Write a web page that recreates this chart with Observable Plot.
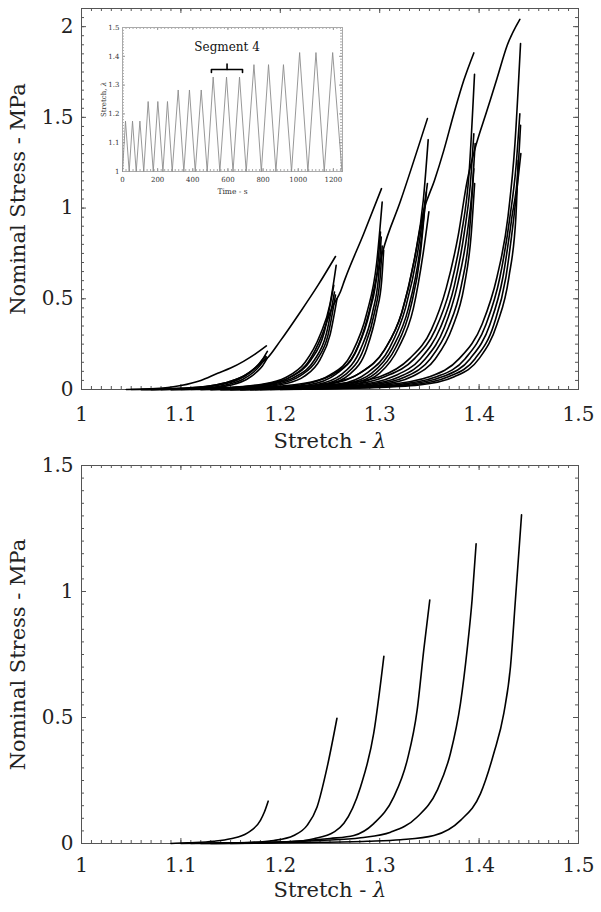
<!DOCTYPE html>
<html>
<head>
<meta charset="utf-8">
<script src="https://cdn.jsdelivr.net/npm/d3@7"></script>
<script src="https://cdn.jsdelivr.net/npm/@observablehq/plot@0.6"></script>
<style>
  body { margin: 0; background: #fff; }
  #wrap { position: relative; width: 601px; height: 912px; overflow: hidden; background: #fff; }
  #inset { position: absolute; left: 92px; top: 20px; }
  svg { display: block; overflow: visible; }
</style>
</head>
<body>
<div id="wrap">
  <div id="top"></div>
  <div id="bottom"></div>
  <div id="inset"></div>
</div>
<script>
// ---------------- DATA ----------------
// Axis tick labels
const xMajor = [1, 1.1, 1.2, 1.3, 1.4, 1.5];
const yTicksTop = [0, 0.5, 1, 1.5, 2];
const yTicksBottom = [0, 0.5, 1, 1.5];
const xLabel = "Stretch - λ";
const yLabel = "Nominal Stress - MPa";

// Top chart: each segment = first loading (primary) curve + subsequent cycle curves. Points are [stretch, stress MPa]
const seg1 = [
  [[1.045,0],[1.07,0.004],[1.10,0.022],[1.12,0.05],[1.137,0.09],[1.15,0.118],[1.163,0.155],[1.175,0.196],[1.186,0.24]],
  [[1.06,0],[1.10,0.006],[1.13,0.02],[1.15,0.045],[1.165,0.08],[1.175,0.12],[1.182,0.165],[1.187,0.21]],
  [[1.07,0],[1.11,0.007],[1.14,0.026],[1.158,0.055],[1.17,0.095],[1.178,0.135],[1.185,0.185]],
  [[1.08,0],[1.12,0.007],[1.145,0.025],[1.162,0.055],[1.173,0.095],[1.18,0.135],[1.186,0.18]],
  [[1.09,0],[1.125,0.006],[1.15,0.024],[1.166,0.055],[1.176,0.095],[1.182,0.13],[1.187,0.175]]
];
const seg2 = [
  [[1.05,0],[1.10,0.006],[1.13,0.02],[1.15,0.045],[1.165,0.08],[1.177,0.13],[1.1868,0.172],[1.20,0.268],[1.22,0.426],[1.238,0.575],[1.2555,0.733]],
  [[1.09,0],[1.14,0.008],[1.18,0.028],[1.205,0.065],[1.225,0.15],[1.24,0.30],[1.25,0.47],[1.2562,0.684]],
  [[1.10,0],[1.15,0.01],[1.187,0.031],[1.21,0.068],[1.2304,0.16],[1.2438,0.307],[1.2538,0.574]],
  [[1.11,0],[1.16,0.01],[1.195,0.033],[1.215,0.07],[1.234,0.16],[1.246,0.30],[1.2545,0.537]],
  [[1.12,0],[1.165,0.01],[1.20,0.033],[1.22,0.075],[1.237,0.165],[1.248,0.30],[1.2555,0.52]],
  [[1.13,0],[1.17,0.009],[1.205,0.032],[1.224,0.072],[1.24,0.165],[1.25,0.30],[1.257,0.50]]
];
const seg3 = [
  [[1.06,0],[1.12,0.005],[1.16,0.012],[1.19,0.03],[1.21,0.068],[1.228,0.15],[1.242,0.30],[1.252,0.45],[1.2606,0.54],[1.2645,0.60],[1.284,0.86],[1.3018,1.107]],
  [[1.12,0],[1.18,0.008],[1.22,0.025],[1.25,0.08],[1.272,0.20],[1.287,0.42],[1.297,0.70],[1.3025,1.033]],
  [[1.13,0],[1.19,0.008],[1.228,0.025],[1.256,0.085],[1.277,0.22],[1.29,0.43],[1.2975,0.65],[1.3008,0.868]],
  [[1.14,0],[1.20,0.008],[1.235,0.025],[1.262,0.085],[1.281,0.225],[1.293,0.43],[1.299,0.63],[1.3015,0.84]],
  [[1.15,0],[1.205,0.008],[1.24,0.024],[1.266,0.085],[1.284,0.225],[1.295,0.43],[1.3005,0.62],[1.3025,0.79]],
  [[1.16,0],[1.21,0.008],[1.245,0.024],[1.27,0.085],[1.287,0.225],[1.297,0.43],[1.302,0.60],[1.304,0.767]]
];
const seg4 = [
  [[1.07,0],[1.13,0.005],[1.19,0.015],[1.23,0.04],[1.255,0.09],[1.275,0.20],[1.289,0.42],[1.298,0.65],[1.303,0.76],[1.321,1.04],[1.348,1.493]],
  [[1.13,0],[1.20,0.008],[1.25,0.03],[1.28,0.09],[1.305,0.22],[1.322,0.42],[1.335,0.72],[1.344,1.05],[1.3488,1.377]],
  [[1.14,0],[1.21,0.008],[1.26,0.03],[1.287,0.09],[1.31,0.23],[1.326,0.45],[1.338,0.75],[1.348,1.135]],
  [[1.15,0],[1.22,0.008],[1.265,0.03],[1.292,0.09],[1.313,0.23],[1.329,0.45],[1.340,0.75],[1.347,1.088]],
  [[1.16,0],[1.225,0.008],[1.27,0.03],[1.296,0.09],[1.316,0.23],[1.331,0.45],[1.341,0.75],[1.346,1.04]],
  [[1.17,0],[1.23,0.008],[1.275,0.03],[1.30,0.09],[1.319,0.23],[1.334,0.45],[1.344,0.76],[1.3495,0.98]]
];
const seg5 = [
  [[1.08,0],[1.15,0.005],[1.21,0.015],[1.255,0.04],[1.28,0.09],[1.305,0.22],[1.322,0.42],[1.335,0.72],[1.344,0.98],[1.355,1.15],[1.3645,1.318],[1.3746,1.52],[1.3846,1.704],[1.3947,1.855]],
  [[1.14,0],[1.21,0.008],[1.27,0.025],[1.305,0.07],[1.335,0.17],[1.356,0.33],[1.371,0.56],[1.382,0.85],[1.39,1.2],[1.3954,1.737]],
  [[1.15,0],[1.22,0.008],[1.278,0.025],[1.313,0.07],[1.341,0.17],[1.361,0.34],[1.375,0.57],[1.385,0.86],[1.391,1.12],[1.3947,1.41]],
  [[1.16,0],[1.23,0.008],[1.285,0.025],[1.32,0.07],[1.346,0.17],[1.365,0.34],[1.378,0.57],[1.388,0.86],[1.393,1.10],[1.396,1.355]],
  [[1.17,0],[1.24,0.008],[1.292,0.025],[1.326,0.07],[1.351,0.17],[1.369,0.34],[1.382,0.57],[1.39,0.85],[1.3947,1.217]],
  [[1.18,0],[1.25,0.008],[1.30,0.025],[1.332,0.07],[1.356,0.17],[1.373,0.34],[1.385,0.57],[1.392,0.85],[1.3955,1.135]]
];
const seg6 = [
  [[1.09,0],[1.16,0.005],[1.22,0.015],[1.265,0.035],[1.30,0.07],[1.33,0.17],[1.352,0.33],[1.367,0.56],[1.379,0.85],[1.388,1.15],[1.3955,1.32],[1.408,1.539],[1.418,1.714],[1.4283,1.897],[1.441,2.04]],
  [[1.16,0],[1.24,0.008],[1.305,0.025],[1.35,0.07],[1.38,0.17],[1.403,0.36],[1.418,0.62],[1.429,0.95],[1.436,1.35],[1.4417,1.907]],
  [[1.17,0],[1.25,0.008],[1.315,0.025],[1.357,0.07],[1.386,0.17],[1.407,0.36],[1.421,0.62],[1.431,0.95],[1.437,1.22],[1.441,1.52]],
  [[1.18,0],[1.26,0.008],[1.323,0.025],[1.363,0.07],[1.391,0.17],[1.411,0.36],[1.424,0.62],[1.433,0.95],[1.439,1.20],[1.4417,1.456]],
  [[1.19,0],[1.27,0.008],[1.332,0.025],[1.369,0.07],[1.396,0.17],[1.415,0.36],[1.427,0.62],[1.435,0.95],[1.442,1.30]],
  [[1.20,0],[1.28,0.008],[1.34,0.025],[1.375,0.07],[1.40,0.17],[1.418,0.36],[1.43,0.62],[1.437,0.95],[1.4393,1.263]]
];

// Bottom chart: one representative curve per segment
const bottomCurves = [
  [[1.09,0],[1.107,0.003],[1.133,0.009],[1.15,0.019],[1.1667,0.041],[1.18,0.092],[1.184,0.125],[1.1878,0.168]],
  [[1.10,0],[1.135,0.002],[1.167,0.004],[1.1935,0.012],[1.2136,0.032],[1.227,0.072],[1.237,0.145],[1.2472,0.304],[1.257,0.497]],
  [[1.11,0],[1.15,0.002],[1.18,0.004],[1.207,0.006],[1.2337,0.019],[1.2538,0.045],[1.264,0.08],[1.2807,0.2246],[1.294,0.4376],[1.3042,0.743]],
  [[1.12,0],[1.18,0.004],[1.22,0.01],[1.25,0.02],[1.274,0.032],[1.294,0.079],[1.3142,0.185],[1.3277,0.331],[1.3377,0.53],[1.3444,0.77],[1.3504,0.9665]],
  [[1.13,0],[1.19,0.004],[1.24,0.012],[1.281,0.023],[1.311,0.045],[1.3377,0.105],[1.3578,0.211],[1.3712,0.358],[1.3813,0.557],[1.388,0.77],[1.393,0.97],[1.397,1.189]],
  [[1.15,0],[1.22,0.004],[1.2874,0.009],[1.321,0.015],[1.3546,0.032],[1.3813,0.092],[1.4014,0.198],[1.4148,0.358],[1.4249,0.517],[1.4316,0.703],[1.4366,0.97],[1.4427,1.304]]
];

// Inset: stretch history (time s, stretch)
const insetTime    = [0, 17, 38, 57, 78, 99, 121, 146, 175, 201, 230, 256, 283, 317, 349, 381, 414, 448, 482, 516, 554, 592, 629, 666, 704, 748, 790, 831, 873, 916, 962, 1008, 1055, 1101, 1148, 1196, 1249];
const insetStretch = [1, 1.175, 1, 1.175, 1, 1.175, 1, 1.243, 1, 1.243, 1, 1.243, 1, 1.283, 1, 1.283, 1, 1.283, 1, 1.328, 1, 1.328, 1, 1.328, 1, 1.371, 1, 1.371, 1, 1.371, 1, 1.413, 1, 1.413, 1, 1.413, 1];
const insetXTicks = [0, 200, 400, 600, 800, 1000, 1200];
const insetYTicks = [1, 1.1, 1.2, 1.3, 1.4, 1.5];
const insetXLabel = "Time - s";
const insetYLabel = "Stretch, λ";
const segmentLabel = "Segment 4";
const bracketT = [506, 595, 683];      // start, middle, end time of the bracket
const bracketS = [1.344, 1.354, 1.373]; // end-foot, bar, tip stretch

// ---------------- DRAWING ----------------
const FONT = "DejaVu Serif";

function toRows(curves, prefix) {
  const rows = [];
  curves.forEach((c, i) => c.forEach(([x, y]) => rows.push({id: prefix + i, x, y})));
  return rows;
}

function italicLambda(svg) {
  svg.querySelectorAll("text").forEach(t => {
    const s = t.textContent;
    if (s.endsWith("λ") && t.children.length === 0) {
      t.textContent = s.slice(0, -1);
      const ts = document.createElementNS("http://www.w3.org/2000/svg", "tspan");
      ts.setAttribute("font-style", "italic");
      ts.textContent = "λ";
      t.appendChild(ts);
    }
  });
}

function frameTicks(xs, ys, fw, fh, len, color) {
  return [
    Plot.tickX(xs, {x: d => d, insetTop: fh - len, stroke: color}),
    Plot.tickX(xs, {x: d => d, insetBottom: fh - len, stroke: color}),
    Plot.tickY(ys, {y: d => d, insetRight: fw - len, stroke: color}),
    Plot.tickY(ys, {y: d => d, insetLeft: fw - len, stroke: color})
  ];
}

function stressChart({curves, yDomain, yTicks, height, mt, mb, xLabelDy, tickPad}) {
  const W = 601, ml = 81, mr = 23;
  const fw = W - ml - mr, fh = height - mt - mb;
  const xMinor = d3.ticks(1, 1.5, 50);
  const yMinor = d3.ticks(yDomain[0], yDomain[1], Math.round((yDomain[1] - yDomain[0]) / 0.05));
  const tc = "#555";
  return Plot.plot({
    width: W, height,
    marginLeft: ml, marginRight: mr, marginTop: mt, marginBottom: mb,
    style: {fontFamily: FONT, fontSize: "20px", background: "transparent", color: "#222", overflow: "visible"},
    x: {domain: [1, 1.5]},
    y: {domain: yDomain},
    marks: [
      ...frameTicks(xMinor, yMinor, fw, fh, 3, tc),
      ...frameTicks(xMajor, yTicks, fw, fh, 5, tc),
      Plot.frame({stroke: tc}),
      Plot.line(curves, {x: "x", y: "y", z: "id", stroke: "#000", strokeWidth: 1.6, curve: "monotone-x"}),
      Plot.axisX({ticks: xMajor, tickSize: 0, tickPadding: tickPad, tickFormat: d => String(d), label: null, fontSize: 20}),
      Plot.axisY({ticks: yTicks, tickSize: 0, tickPadding: 8, tickFormat: d => String(d), label: null, fontSize: 20}),
      Plot.text([xLabel], {text: d => d, frameAnchor: "bottom", lineAnchor: "middle", textAnchor: "middle", dy: xLabelDy, fontSize: 21}),
      Plot.text([yLabel], {text: d => d, frameAnchor: "left", lineAnchor: "middle", textAnchor: "middle", rotate: -90, dx: -63, fontSize: 21})
    ]
  });
}

const topRows = [seg1, seg2, seg3, seg4, seg5, seg6].flatMap((s, k) => toRows(s, "s" + k + "_"));
const bottomRows = toRows(bottomCurves, "b");

// top svg: 0..452 (frame 8..389); bottom svg: 452..912 (frame 465..843)
const topSvg = stressChart({curves: topRows, yDomain: [0, 2.1], yTicks: yTicksTop, height: 452, mt: 8, mb: 63, xLabelDy: 52, tickPad: 17});
const bottomSvg = stressChart({curves: bottomRows, yDomain: [0, 1.5], yTicks: yTicksBottom, height: 460, mt: 13, mb: 69, xLabelDy: 47, tickPad: 14});
italicLambda(topSvg); italicLambda(bottomSvg);
document.getElementById("top").appendChild(topSvg);
document.getElementById("bottom").appendChild(bottomSvg);

// Inset
const insetRows = insetTime.map((t, i) => ({t, s: insetStretch[i]}));
const bracketRows = [
  {g: 0, t: bracketT[0], s: bracketS[0]}, {g: 0, t: bracketT[0], s: bracketS[1]},
  {g: 0, t: bracketT[2], s: bracketS[1]}, {g: 0, t: bracketT[2], s: bracketS[0]},
  {g: 1, t: bracketT[1], s: bracketS[1]}, {g: 1, t: bracketT[1], s: bracketS[2]}
];
const iW = 260, iH = 182, iml = 30, imr = 10, imt = 7, imb = 31;
const ifw = iW - iml - imr, ifh = iH - imt - imb;
const insetSvg = Plot.plot({
  width: iW, height: iH,
  marginLeft: iml, marginRight: imr, marginTop: imt, marginBottom: imb,
  style: {fontFamily: FONT, fontSize: "7px", background: "transparent", color: "#333"},
  x: {domain: [0, 1252]},
  y: {domain: [1, 1.5]},
  marks: [
    ...frameTicks(d3.ticks(0, 1252, 60), d3.ticks(1, 1.5, 50), ifw, ifh, 2, "#aaa"),
    ...frameTicks(insetXTicks, insetYTicks, ifw, ifh, 3, "#999"),
    Plot.frame({stroke: "#aaa"}),
    Plot.line(insetRows, {x: "t", y: "s", stroke: "#8c8c8c", strokeWidth: 0.9}),
    Plot.line(bracketRows, {x: "t", y: "s", z: "g", stroke: "#000", strokeWidth: 1.6}),
    Plot.text([segmentLabel], {text: d => d, x: () => bracketT[1], y: () => bracketS[2], dy: -17, fontSize: 12, fill: "#111"}),
    Plot.axisX({ticks: insetXTicks, tickSize: 0, tickPadding: 6, tickFormat: d => String(d), label: null, fontSize: 7}),
    Plot.axisY({ticks: insetYTicks, tickSize: 0, tickPadding: 3, tickFormat: d => String(d), label: null, fontSize: 7}),
    Plot.text([insetXLabel], {text: d => d, frameAnchor: "bottom", lineAnchor: "middle", textAnchor: "middle", dy: 20, fontSize: 7.5}),
    Plot.text([insetYLabel], {text: d => d, frameAnchor: "left", lineAnchor: "middle", textAnchor: "middle", rotate: -90, dx: -19, fontSize: 7})
  ]
});
italicLambda(insetSvg);
document.getElementById("inset").appendChild(insetSvg);
</script>
</body>
</html>
